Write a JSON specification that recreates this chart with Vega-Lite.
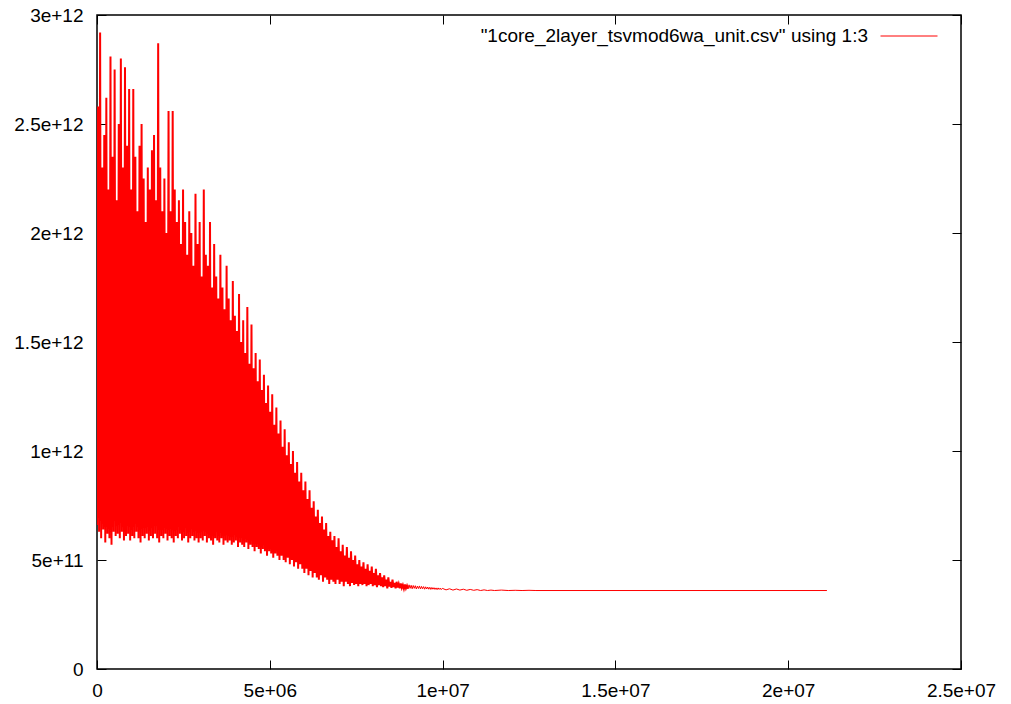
{
  "$schema": "https://vega.github.io/schema/vega-lite/v6.json",
  "width": 864,
  "height": 654,
  "autosize": {"type": "none"},
  "padding": {"left": 97, "top": 15, "right": 50, "bottom": 35},
  "background": "white",
  "config": {
    "view": {"stroke": "black", "strokeWidth": 1.5},
    "font": "Liberation Sans",
    "axis": {"grid": false, "domain": false, "tickColor": "black", "tickWidth": 1, "labelColor": "black", "labelFont": "Liberation Sans", "labelFontSize": 19, "title": null, "labelFlush": false, "labelOverlap": false}
  },
  "data": {"values": [
    {"x":0,"y":6.6e11},{"x":30000,"y":2.58e12},
    {"x":60000,"y":6.3e11},{"x":90000,"y":2.92e12},
    {"x":120000,"y":6.0e11},{"x":150000,"y":2.3e12},
    {"x":180000,"y":6.4e11},{"x":210000,"y":2.45e12},
    {"x":240000,"y":5.8e11},{"x":270000,"y":2.62e12},
    {"x":300000,"y":6.2e11},{"x":330000,"y":2.2e12},
    {"x":360000,"y":6.0e11},{"x":390000,"y":2.81e12},
    {"x":420000,"y":5.7e11},{"x":450000,"y":2.35e12},
    {"x":480000,"y":6.3e11},{"x":510000,"y":2.75e12},
    {"x":540000,"y":6.1e11},{"x":570000,"y":2.15e12},
    {"x":600000,"y":6.2e11},{"x":630000,"y":2.5e12},
    {"x":660000,"y":6.0e11},{"x":690000,"y":2.8e12},
    {"x":720000,"y":6.3e11},{"x":750000,"y":2.3e12},
    {"x":780000,"y":5.9e11},{"x":810000,"y":2.76e12},
    {"x":840000,"y":6.1e11},{"x":870000,"y":2.4e12},
    {"x":900000,"y":6.2e11},{"x":930000,"y":2.66e12},
    {"x":960000,"y":5.9e11},{"x":990000,"y":2.2e12},
    {"x":1020000,"y":6.1e11},{"x":1050000,"y":2.66e12},
    {"x":1080000,"y":6.0e11},{"x":1110000,"y":2.35e12},
    {"x":1140000,"y":6.3e11},{"x":1170000,"y":2.1e12},
    {"x":1200000,"y":6.0e11},{"x":1230000,"y":2.4e12},
    {"x":1260000,"y":5.8e11},{"x":1290000,"y":2.5e12},
    {"x":1320000,"y":6.1e11},{"x":1350000,"y":2.25e12},
    {"x":1380000,"y":6.0e11},{"x":1410000,"y":2.05e12},
    {"x":1440000,"y":6.2e11},{"x":1470000,"y":2.3e12},
    {"x":1500000,"y":5.9e11},{"x":1530000,"y":2.2e12},
    {"x":1560000,"y":6.1e11},{"x":1590000,"y":2.38e12},
    {"x":1620000,"y":6.0e11},{"x":1650000,"y":2.45e12},
    {"x":1680000,"y":6.2e11},{"x":1710000,"y":2.15e12},
    {"x":1740000,"y":6.0e11},{"x":1770000,"y":2.87e12},
    {"x":1800000,"y":5.8e11},{"x":1830000,"y":2.3e12},
    {"x":1860000,"y":6.1e11},{"x":1890000,"y":2.1e12},
    {"x":1920000,"y":6.0e11},{"x":1950000,"y":2.25e12},
    {"x":1980000,"y":6.2e11},{"x":2010000,"y":2.0e12},
    {"x":2040000,"y":5.9e11},{"x":2070000,"y":2.56e12},
    {"x":2100000,"y":6.1e11},{"x":2130000,"y":2.1e12},
    {"x":2160000,"y":6.0e11},{"x":2190000,"y":2.56e12},
    {"x":2220000,"y":5.8e11},{"x":2250000,"y":2.2e12},
    {"x":2280000,"y":6.1e11},{"x":2310000,"y":2.05e12},
    {"x":2340000,"y":6.0e11},{"x":2370000,"y":2.15e12},
    {"x":2400000,"y":6.2e11},{"x":2430000,"y":1.95e12},
    {"x":2460000,"y":5.9e11},{"x":2490000,"y":2.2e12},
    {"x":2520000,"y":6.0e11},{"x":2550000,"y":2.05e12},
    {"x":2580000,"y":6.1e11},{"x":2610000,"y":1.9e12},
    {"x":2640000,"y":5.8e11},{"x":2670000,"y":2.1e12},
    {"x":2700000,"y":6.0e11},{"x":2730000,"y":2.0e12},
    {"x":2760000,"y":6.1e11},{"x":2790000,"y":1.85e12},
    {"x":2820000,"y":5.9e11},{"x":2850000,"y":2.18e12},
    {"x":2880000,"y":6.0e11},{"x":2910000,"y":1.95e12},
    {"x":2940000,"y":5.8e11},{"x":2970000,"y":2.05e12},
    {"x":3000000,"y":6.0e11},{"x":3030000,"y":1.8e12},
    {"x":3060000,"y":5.9e11},{"x":3090000,"y":2.2e12},
    {"x":3120000,"y":6.1e11},{"x":3150000,"y":1.9e12},
    {"x":3180000,"y":5.8e11},{"x":3210000,"y":1.85e12},
    {"x":3240000,"y":6.0e11},{"x":3270000,"y":2.05e12},
    {"x":3300000,"y":5.9e11},{"x":3330000,"y":1.75e12},
    {"x":3360000,"y":5.7e11},{"x":3390000,"y":1.95e12},
    {"x":3420000,"y":6.0e11},{"x":3450000,"y":1.8e12},
    {"x":3480000,"y":5.9e11},{"x":3510000,"y":1.7e12},
    {"x":3540000,"y":5.8e11},{"x":3570000,"y":1.9e12},
    {"x":3600000,"y":6.0e11},{"x":3630000,"y":1.75e12},
    {"x":3660000,"y":5.7e11},{"x":3690000,"y":1.65e12},
    {"x":3720000,"y":5.9e11},{"x":3750000,"y":1.85e12},
    {"x":3780000,"y":5.8e11},{"x":3810000,"y":1.7e12},
    {"x":3840000,"y":5.9e11},{"x":3870000,"y":1.6e12},
    {"x":3900000,"y":5.7e11},{"x":3930000,"y":1.78e12},
    {"x":3960000,"y":5.8e11},{"x":3990000,"y":1.62e12},
    {"x":4020000,"y":5.9e11},{"x":4050000,"y":1.55e12},
    {"x":4080000,"y":5.6e11},{"x":4110000,"y":1.72e12},
    {"x":4140000,"y":5.8e11},{"x":4170000,"y":1.5e12},
    {"x":4200000,"y":5.7e11},{"x":4230000,"y":1.6e12},
    {"x":4260000,"y":5.6e11},{"x":4290000,"y":1.45e12},
    {"x":4320000,"y":5.8e11},{"x":4350000,"y":1.66e12},
    {"x":4380000,"y":5.5e11},{"x":4410000,"y":1.4e12},
    {"x":4440000,"y":5.7e11},{"x":4470000,"y":1.58e12},
    {"x":4500000,"y":5.6e11},{"x":4530000,"y":1.38e12},
    {"x":4560000,"y":5.4e11},{"x":4590000,"y":1.45e12},
    {"x":4620000,"y":5.6e11},{"x":4650000,"y":1.32e12},
    {"x":4680000,"y":5.5e11},{"x":4710000,"y":1.42e12},
    {"x":4740000,"y":5.3e11},{"x":4770000,"y":1.28e12},
    {"x":4800000,"y":5.5e11},{"x":4830000,"y":1.35e12},
    {"x":4860000,"y":5.4e11},{"x":4890000,"y":1.22e12},
    {"x":4920000,"y":5.2e11},{"x":4950000,"y":1.3e12},
    {"x":4980000,"y":5.4e11},{"x":5010000,"y":1.18e12},
    {"x":5040000,"y":5.3e11},{"x":5070000,"y":1.26e12},
    {"x":5100000,"y":5.1e11},{"x":5130000,"y":1.12e12},
    {"x":5160000,"y":5.3e11},{"x":5190000,"y":1.2e12},
    {"x":5220000,"y":5.2e11},{"x":5250000,"y":1.08e12},
    {"x":5280000,"y":5.0e11},{"x":5310000,"y":1.14e12},
    {"x":5340000,"y":5.2e11},{"x":5370000,"y":1.02e12},
    {"x":5400000,"y":5.0e11},{"x":5430000,"y":1.1e12},
    {"x":5460000,"y":4.9e11},{"x":5490000,"y":0.98e12},
    {"x":5520000,"y":5.1e11},{"x":5550000,"y":1.04e12},
    {"x":5580000,"y":4.8e11},{"x":5610000,"y":0.94e12},
    {"x":5640000,"y":5.0e11},{"x":5670000,"y":1.0e12},
    {"x":5700000,"y":4.7e11},{"x":5730000,"y":0.9e12},
    {"x":5760000,"y":4.9e11},{"x":5790000,"y":0.95e12},
    {"x":5820000,"y":4.6e11},{"x":5850000,"y":0.86e12},
    {"x":5880000,"y":4.8e11},{"x":5910000,"y":0.9e12},
    {"x":5940000,"y":4.6e11},{"x":5970000,"y":0.82e12},
    {"x":6000000,"y":4.4e11},{"x":6030000,"y":0.86e12},
    {"x":6060000,"y":4.6e11},{"x":6090000,"y":0.78e12},
    {"x":6120000,"y":4.3e11},{"x":6150000,"y":0.82e12},
    {"x":6180000,"y":4.5e11},{"x":6210000,"y":0.74e12},
    {"x":6240000,"y":4.2e11},{"x":6270000,"y":0.77e12},
    {"x":6300000,"y":4.4e11},{"x":6330000,"y":0.7e12},
    {"x":6360000,"y":4.2e11},{"x":6390000,"y":0.73e12},
    {"x":6420000,"y":4.1e11},{"x":6450000,"y":0.67e12},
    {"x":6480000,"y":4.3e11},{"x":6510000,"y":0.7e12},
    {"x":6540000,"y":4.0e11},{"x":6570000,"y":0.64e12},
    {"x":6600000,"y":4.2e11},{"x":6630000,"y":0.67e12},
    {"x":6660000,"y":4.1e11},{"x":6690000,"y":0.61e12},
    {"x":6720000,"y":3.9e11},{"x":6750000,"y":0.63e12},
    {"x":6780000,"y":4.1e11},{"x":6810000,"y":0.59e12},
    {"x":6840000,"y":4.0e11},{"x":6870000,"y":0.61e12},
    {"x":6900000,"y":3.9e11},{"x":6930000,"y":0.56e12},
    {"x":6960000,"y":4.1e11},{"x":6990000,"y":0.6e12},
    {"x":7020000,"y":3.9e11},{"x":7050000,"y":0.54e12},
    {"x":7080000,"y":4.0e11},{"x":7110000,"y":0.57e12},
    {"x":7140000,"y":3.8e11},{"x":7170000,"y":0.52e12},
    {"x":7200000,"y":4.0e11},{"x":7230000,"y":0.56e12},
    {"x":7260000,"y":3.9e11},{"x":7290000,"y":0.51e12},
    {"x":7320000,"y":3.8e11},{"x":7350000,"y":0.54e12},
    {"x":7380000,"y":3.95e11},{"x":7410000,"y":0.5e12},
    {"x":7440000,"y":3.85e11},{"x":7470000,"y":0.52e12},
    {"x":7500000,"y":3.9e11},{"x":7530000,"y":0.48e12},
    {"x":7560000,"y":3.8e11},{"x":7590000,"y":0.5e12},
    {"x":7620000,"y":3.9e11},{"x":7650000,"y":0.47e12},
    {"x":7680000,"y":3.85e11},{"x":7710000,"y":0.49e12},
    {"x":7740000,"y":3.9e11},{"x":7770000,"y":0.46e12},
    {"x":7800000,"y":3.8e11},{"x":7830000,"y":0.48e12},
    {"x":7860000,"y":3.85e11},{"x":7890000,"y":0.45e12},
    {"x":7920000,"y":3.9e11},{"x":7950000,"y":0.47e12},
    {"x":7980000,"y":3.8e11},{"x":8010000,"y":0.44e12},
    {"x":8040000,"y":3.85e11},{"x":8070000,"y":0.46e12},
    {"x":8100000,"y":3.75e11},{"x":8130000,"y":0.43e12},
    {"x":8160000,"y":3.85e11},{"x":8190000,"y":0.44e12},
    {"x":8220000,"y":3.8e11},{"x":8250000,"y":0.42e12},
    {"x":8280000,"y":3.75e11},{"x":8310000,"y":0.43e12},
    {"x":8340000,"y":3.8e11},{"x":8370000,"y":0.41e12},
    {"x":8400000,"y":3.7e11},{"x":8430000,"y":0.42e12},
    {"x":8460000,"y":3.78e11},{"x":8490000,"y":0.4e12},
    {"x":8520000,"y":3.72e11},{"x":8550000,"y":0.41e12},
    {"x":8580000,"y":3.76e11},{"x":8610000,"y":0.395e12},
    {"x":8640000,"y":3.7e11},{"x":8670000,"y":0.4e12},
    {"x":8700000,"y":3.74e11},{"x":8730000,"y":0.39e12},
    {"x":8760000,"y":3.7e11},{"x":8790000,"y":0.392e12},
    {"x":8820000,"y":3.72e11},{"x":8850000,"y":0.385e12},
    {"x":8880000,"y":3.68e11},{"x":8910000,"y":0.388e12},
    {"x":8940000,"y":3.7e11},{"x":8970000,"y":0.382e12},
    {"x":9000000,"y":3.68e11},
    {"x":9030000,"y":3.86e11},{"x":9060000,"y":3.7e11},
    {"x":9090000,"y":3.84e11},{"x":9120000,"y":3.68e11},
    {"x":9150000,"y":3.83e11},{"x":9180000,"y":3.7e11},
    {"x":9210000,"y":3.82e11},{"x":9240000,"y":3.67e11},
    {"x":9270000,"y":3.8e11},{"x":9300000,"y":3.69e11},
    {"x":9330000,"y":3.81e11},{"x":9360000,"y":3.67e11},
    {"x":9390000,"y":3.79e11},{"x":9420000,"y":3.68e11},
    {"x":9450000,"y":3.78e11},{"x":9480000,"y":3.66e11},
    {"x":9510000,"y":3.77e11},{"x":9540000,"y":3.67e11},
    {"x":9570000,"y":3.76e11},{"x":9600000,"y":3.66e11},
    {"x":9630000,"y":3.75e11},{"x":9660000,"y":3.65e11},
    {"x":9690000,"y":3.74e11},{"x":9720000,"y":3.66e11},
    {"x":9750000,"y":3.73e11},{"x":9780000,"y":3.65e11},
    {"x":9810000,"y":3.72e11},{"x":9840000,"y":3.64e11},
    {"x":9870000,"y":3.72e11},{"x":9900000,"y":3.65e11},
    {"x":9930000,"y":3.71e11},{"x":9960000,"y":3.64e11},
    {"x":9990000,"y":3.7e11},
    {"x":10100000,"y":3.63e11},{"x":10200000,"y":3.68e11},
    {"x":10300000,"y":3.62e11},{"x":10400000,"y":3.67e11},
    {"x":10500000,"y":3.62e11},{"x":10600000,"y":3.66e11},
    {"x":10700000,"y":3.61e11},{"x":10800000,"y":3.65e11},
    {"x":10900000,"y":3.61e11},{"x":11000000,"y":3.64e11},
    {"x":11100000,"y":3.6e11},{"x":11200000,"y":3.63e11},
    {"x":11300000,"y":3.6e11},{"x":11400000,"y":3.62e11},
    {"x":11500000,"y":3.6e11},{"x":11700000,"y":3.62e11},
    {"x":11900000,"y":3.6e11},{"x":12100000,"y":3.61e11},
    {"x":12300000,"y":3.6e11},{"x":12500000,"y":3.61e11},
    {"x":12700000,"y":3.6e11},{"x":21120000,"y":3.6e11}
  ]},
  "layer": [
    {
      "transform": [{"filter": "datum.x <= 9000000"}],
      "mark": {"type": "line", "strokeWidth": 2, "clip": true},
      "encoding": {
        "x": {"field": "x", "type": "quantitative",
          "scale": {"domain": [0, 25000000], "nice": false, "zero": false},
          "axis": {"orient": "bottom", "values": [0, 5000000, 10000000, 15000000, 20000000, 25000000],
            "labelExpr": "datum.value == 0 ? '0' : replace(format(datum.value, '~e'), 'e+', 'e+0')",
            "tickSize": -9, "labelPadding": 21}},
        "y": {"field": "y", "type": "quantitative",
          "scale": {"domain": [0, 3e12], "nice": false},
          "axis": {"orient": "left", "values": [0, 5e11, 1e12, 1.5e12, 2e12, 2.5e12, 3e12],
            "labelExpr": "datum.value == 0 ? '0' : format(datum.value, '~e')",
            "tickSize": -9, "labelPadding": 23}},
        "color": {"datum": "\"1core_2layer_tsvmod6wa_unit.csv\" using 1:3", "type": "nominal",
          "scale": {"range": ["#ff0000"]},
          "legend": {"orient": "none", "legendX": 783, "legendY": -8, "title": null, "padding": 0,
            "symbolType": "stroke", "symbolSize": 3249, "symbolStrokeWidth": 1, "symbolStrokeColor": "#ff0000",
            "labelFont": "Liberation Sans", "labelFontSize": 19, "labelColor": "black", "labelLimit": 0,
            "labelAlign": "right", "labelOffset": -70}}
      }
    },
    {
      "transform": [{"filter": "datum.x >= 9000000"}],
      "mark": {"type": "line", "strokeWidth": 1, "color": "#ff0000", "clip": true},
      "encoding": {
        "x": {"field": "x", "type": "quantitative", "axis": null},
        "y": {"field": "y", "type": "quantitative", "axis": null}
      }
    },
    {
      "data": {"values": [{"x": 0, "y": 0}]},
      "mark": {"type": "point", "opacity": 0},
      "encoding": {
        "x": {"field": "x", "type": "quantitative",
          "axis": {"orient": "top", "values": [0, 5000000, 10000000, 15000000, 20000000, 25000000], "labels": false, "tickSize": -9}},
        "y": {"field": "y", "type": "quantitative",
          "axis": {"orient": "right", "values": [0, 5e11, 1e12, 1.5e12, 2e12, 2.5e12, 3e12], "labels": false, "tickSize": -9}}
      }
    }
  ]
}
